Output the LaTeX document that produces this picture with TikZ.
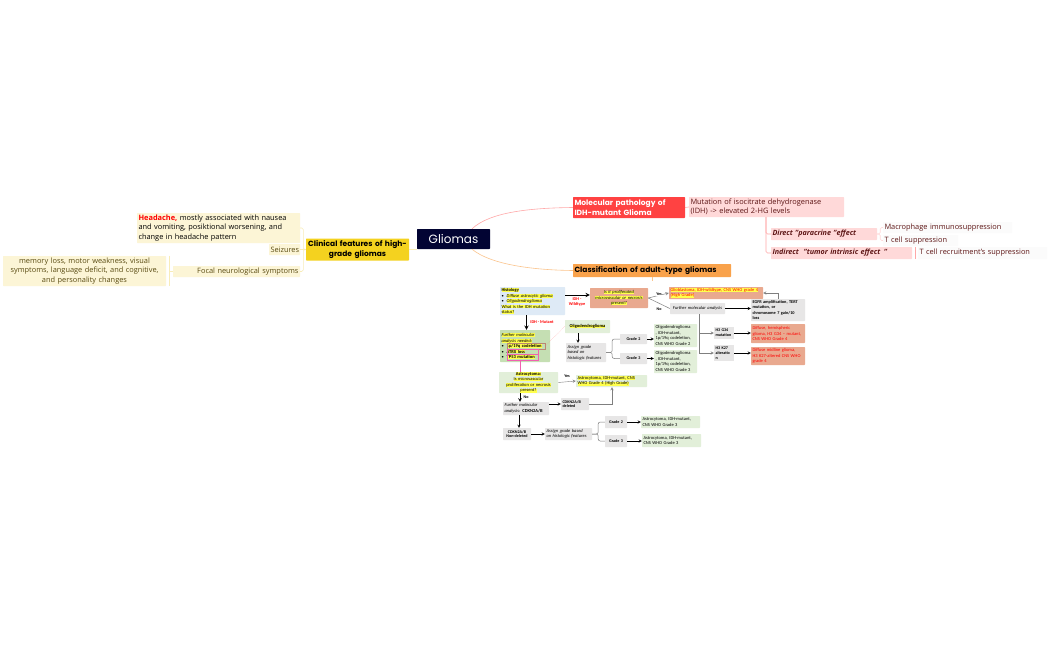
\documentclass[tikz,border=0pt]{standalone}
\usepackage{fontspec}
\setmainfont{Open Sans}
\newfontfamily\headfont{Poppins}
\newfontfamily\flowfont{Carlito}
\definecolor{rootblue}{HTML}{020433}
\definecolor{paleyellow}{HTML}{FCF5D6}
\definecolor{lineyellow}{HTML}{F8ECB8}
\definecolor{sunyellow}{HTML}{F4D21F}
\definecolor{textolive}{HTML}{5A4B12}
\definecolor{molred}{HTML}{FF4242}
\definecolor{palered}{HTML}{FFD9D9}
\definecolor{linered}{HTML}{FFA8A8}
\definecolor{textwine}{HTML}{5E1616}
\definecolor{classorange}{HTML}{F9A24B}
\definecolor{lineorange}{HTML}{FBC48C}
\definecolor{flowblue}{HTML}{DEEAF6}
\definecolor{flowsalmon}{HTML}{E9A98F}
\definecolor{flowgreen}{HTML}{E2EFD9}
\definecolor{flowmoss}{HTML}{C5DFB3}
\definecolor{flowgrey}{HTML}{E7E6E6}
\definecolor{flowyellow}{HTML}{FFFF4D}
\definecolor{flowpink}{HTML}{F060B0}
\definecolor{flowline}{HTML}{7F7F7F}
\newcommand{\hlyel}[1]{{\setlength{\fboxsep}{0pt}\colorbox{flowyellow}{#1}}}
\tikzset{
  sized/.style 2 args={text width=#1pt, minimum height=#2pt, inner xsep=1.5pt, inner ysep=0pt, rounded corners=.6pt},
  clinbox/.style={fill=paleyellow, text=textolive, font=\fontsize{7.4}{9.3}\selectfont},
  molbox/.style={fill=palered, text=textwine, font=\fontsize{7.4}{9.3}\selectfont},
  leafbox/.style={fill=white!98.5!black, text=textwine, font=\fontsize{7.4}{9.3}\selectfont},
  mainbox/.style={font=\headfont\bfseries\fontsize{7.5}{9.3}\selectfont},
  flowbox/.style={font=\flowfont\fontsize{4.5}{5.5}\selectfont, rounded corners=0pt},
  flowb/.style={flowbox, fill=flowgrey},
  flowg/.style={flowbox, fill=flowgreen},
  flowr/.style={flowbox, fill=flowsalmon, text=red},
  flowlink/.style={flowline, line width=.5pt},
  flowarrow/.style={black, line width=.4pt, ->, >=stealth},
  flowtag/.style={flowbox, font=\flowfont\bfseries\fontsize{4.1}{4.8}\selectfont, inner sep=.3pt}
}
\begin{document}
\begin{tikzpicture}[x=1pt, y=-1pt]
  \useasboundingbox[fill=white] (0,0) rectangle (1050,650);
  % central topic and left branch
  \node[fill=rootblue, text=white, minimum width=73pt, minimum height=20pt, inner sep=0pt, rounded corners=.6pt,
        font=\headfont\fontsize{12}{14}\selectfont] (gliomas) at (453.5,239) {Gliomas};
  \node[mainbox, fill=sunyellow, sized={100}{22}, align=center] (clinical) at (357.5,249.5) {Clinical features of high-\\grade gliomas};
  \node[clinbox, sized={160}{30}, align=left] (headache) at (218.5,228) {\textcolor{red}{\textbf{Headache,}} \textcolor{black}{mostly associated with nausea}\\\textcolor{black}{and vomiting, posiktional worsening, and}\\\textcolor{black}{change in headache pattern}};
  \node[clinbox, sized={28}{11}, align=right] (seizures) at (284.5,249.5) {Seizures};
  \node[clinbox, sized={124}{11}, align=right] (focal) at (236.5,271.5) {Focal neurological symptoms};
  \node[clinbox, sized={160}{30}, align=center] (memory) at (84.5,271) {memory loss, motor weakness, visual\\symptoms, language deficit, and cognitive,\\and personality changes};
  \draw[lineyellow, line width=.6pt] (gliomas.west |- 0,249) -- (clinical.east |- 0,249);
  \draw[lineyellow, line width=.6pt, rounded corners=1.5pt] (clinical.west) -- ++(-2.5,0) |- (headache.east);
  \draw[lineyellow, line width=.6pt] (clinical.west) -- ++(-2.5,0) -- (seizures.east);
  \draw[lineyellow, line width=.6pt, rounded corners=1.5pt] (clinical.west) -- ++(-2.5,0) |- (focal.east);
  \draw[lineyellow, line width=.6pt] (focal.west) -- ++(-4,0);
  \draw[lineyellow, line width=.6pt] ([xshift=3pt]memory.north east) -- ([xshift=3pt]memory.south east);
  % right branches
  \node[mainbox, fill=molred, text=white, sized={109}{21}, align=left] (molecular) at (629,207.5) {Molecular pathology of\\IDH-mutant Glioma};
  \node[mainbox, fill=classorange, sized={155}{13}, align=left] (classif) at (652,270.5) {Classification of adult-type gliomas};
  \node[molbox, sized={152}{20}, align=left] (mutation) at (766.5,207) {Mutation of isocitrate dehydrogenase\\(IDH) -> elevated 2-HG levels};
  \node[molbox, sized={103}{12}, align=left, font=\bfseries\itshape\fontsize{7.2}{9}\selectfont] (direct) at (824,234) {Direct "paracrine "effect};
  \node[molbox, sized={138}{12}, align=left, font=\bfseries\itshape\fontsize{7.2}{9}\selectfont] (indirect) at (841.5,253) {Indirect \ "tumor intrinsic effect \,"};
  \node[leafbox, sized={126}{11}, align=left] (macro) at (947.5,227.5) {Macrophage immunosuppression};
  \node[leafbox, sized={72}{11}, align=left] (tcell) at (920.5,240.5) {T cell suppression};
  \node[leafbox, sized={126}{12}, align=left] (recruit) at (982.5,253) {T cell recruitment's suppression};
  \draw[linered, line width=.6pt] (gliomas.north -| 472,0) .. controls (490,212) and (530,208) .. (molecular.west);
  \draw[lineorange, line width=.6pt] (gliomas.south -| 472,0) .. controls (490,264) and (530,270) .. (classif.west);
  \draw[linered, line width=.6pt] (molecular.east) -- (mutation.west);
  \draw[linered, line width=.6pt, rounded corners=1.5pt] (mutation.south -| 766,0) |- (direct.west);
  \draw[linered, line width=.6pt, rounded corners=1.5pt] (mutation.south -| 766,0) |- (indirect.west);
  \draw[palered, line width=.6pt, rounded corners=1.5pt] (direct.east) -- ++(3,0) |- (macro.west);
  \draw[palered, line width=.6pt, rounded corners=1.5pt] (direct.east) -- ++(3,0) |- (tcell.west);
  \draw[linered, line width=.6pt] (915,247) -- (915,259);
  \coordinate (classend) at (652,281);
  \draw[lineorange, line width=.6pt] (classif.south) -- (classend);
  % flow chart, top part
  \node[flowbox, fill=flowblue, sized={62}{28}, align=left] (histology) at (532.5,301) {\hlyel{\textbf{Histology}}\\\textbullet\hspace{3pt}\hlyel{\textit{Diffuse astrocytic glioma}}\\\textbullet\hspace{3pt}\hlyel{\textit{Oligodendroglioma}}\\\hlyel{What is the IDH mutation}\\\hlyel{status?}};
  \node[flowbox, fill=flowsalmon, sized={55}{20}, align=center] (prolif) at (619,298) {\hlyel{\textit{Is it proliferated}}\\\hlyel{\textit{microvascular or necrosis}}\\\hlyel{\textit{present?}}};
  \node[flowbox, fill=flowsalmon, sized={91}{12}, align=left] (gbm) at (716,293) {\hlyel{\textcolor{red}{Glioblastoma, IDH-wildtype, CNS WHO grade 4}}\\\hlyel{\textcolor{red}{(High Grade)}}};
  \node[flowb, sized={52}{11}, align=center] (furthermol) at (697.5,308.5) {\mbox{\textit{Further molecular analysis}}};
  \node[flowb, sized={51}{22}, align=left, font=\flowfont\bfseries\fontsize{4.3}{5.5}\selectfont] (egfr) at (778,310) {EGFR amplification, TERT\\mutation, or\\chromosome 7 gain/10\\loss};
  \node[flowb, sized={17}{12}, align=left, flowtag, inner xsep=1.5pt] (h3g) at (724,333) {H3 G34\\mutation};
  \node[flowb, sized={17}{16}, align=left, flowtag, inner xsep=1.5pt] (h3k) at (724,353) {H3 K27\\alteratio\\n};
  \node[flowr, sized={51}{19}, align=left] (diffhemi) at (778,333.5) {Diffuse, hemispheric\\glioma, H3 G34 – mutant,\\CNS WHO Grade 4};
  \node[flowr, sized={51}{18}, align=left] (diffmid) at (778,356) {Diffuse midline glioma,\\H3 K27-altered CNS WHO\\grade 4};
  \node[flowbox, fill=flowmoss, sized={47}{32}, align=left] (further) at (525,346) {\hlyel{\textit{Further molecular}}\\\hlyel{\textit{analysis needed:}}\\\textbullet\hspace{3pt}\hlyel{\textbf{1p/19q codeletion}}\\\textbullet\hspace{3pt}\hlyel{\textbf{ATRX loss}}\\\textbullet\hspace{3pt}\hlyel{\textbf{TP53 mutation}}};
  \coordinate (codelend) at (545,346);
  \coordinate (tpend) at (520,360);
  \draw[flowsalmon!80!black, line width=.3pt] (507,343.3) rectangle (codelend |- 0,349.5);
  \draw[flowpink, line width=.3pt] (507,349.5) rectangle (538,354.6);
  \draw[flowpink, line width=.3pt] (507,354.6) rectangle (538,360);
  \node[flowg, sized={42}{13}, align=center, font=\flowfont\bfseries\fontsize{4.5}{5.5}\selectfont] (oligo) at (587.5,326.5) {\hlyel{Oligodendroglioma}};
  \node[flowb, sized={37}{19}, align=left, font=\flowfont\itshape\fontsize{4.5}{5.5}\selectfont] (assignone) at (586,352.5) {Assign grade\\based on\\histologic features};
  \node[flowb, flowtag, sized={24}{10}, align=center, inner xsep=1.5pt] (gradetwo) at (633.5,339) {Grade 2};
  \node[flowb, flowtag, sized={24}{11}, align=center, inner xsep=1.5pt] (gradethree) at (633.5,358.5) {Grade 3};
  \node[flowg, sized={40}{23}, align=left] (oligotwo) at (675.5,335.5) {Oligodendroglioma\\, IDH-mutant,\\1p/19q codeletion,\\CNS WHO Grade 2};
  \node[flowg, sized={40}{23}, align=left] (oligothree) at (675.5,361.5) {Oligodendroglioma\\, IDH-mutant,\\1p/19q codeletion,\\CNS WHO Grade 3};
  % flow chart, lower part
  \node[flowg, sized={56}{21}, align=center] (astroq) at (528.5,382.5) {\hlyel{\textbf{Astrocytoma:}}\\\hlyel{Is microvascular}\\\hlyel{proliferation or necrosis}\\\hlyel{present?}};
  \node[flowg, sized={68}{12}, align=left] (astrofour) at (611.5,381) {\hlyel{Astrocytoma, IDH-mutant, CNS}\\\hlyel{WHO Grade 4 (High Grade)}};
  \node[flowb, sized={43}{13}, align=left] (furthercdkn) at (526,408.5) {\textit{Further molecular}\\\textit{analysis:} \textbf{CDKN2A/B}};
  \node[flowb, flowtag, sized={25}{12}, align=left, inner xsep=1.5pt] (deleted) at (575,404) {CDKN2A/B\\deleted};
  \node[flowb, flowtag, sized={25}{12}, align=center, inner xsep=1.5pt] (nondel) at (517,434) {CDKN2A/B\\Non-deleted};
  \node[flowb, sized={44}{12}, align=left, font=\flowfont\itshape\fontsize{4.5}{5.5}\selectfont] (assigntwo) at (568.5,434) {Assign grade based\\on histologic features};
  \node[flowb, flowtag, sized={19}{12}, align=center, inner xsep=1.5pt] (gradeb) at (616,422) {Grade 2};
  \node[flowb, flowtag, sized={19}{12}, align=center, inner xsep=1.5pt] (gradec) at (616,441) {Grade 3};
  \node[flowg, sized={56}{12}, align=left] (astrob) at (670.5,422) {Astrocytoma, IDH-mutant,\\CNS WHO Grade 3};
  \node[flowg, sized={56}{13}, align=left] (astroc) at (671.5,440.5) {Astrocytoma, IDH-mutant,\\CNS WHO Grade 3};
  % flow labels
  \node[flowtag, text=red, align=center, font=\flowfont\bfseries\fontsize{4.3}{5}\selectfont] (wildlab) at (577,302) {IDH -\\Wildtype};
  \node[flowtag, text=red, font=\flowfont\bfseries\fontsize{4.3}{5}\selectfont] (mutlab) at (542,322) {IDH - Mutant};
  % flow connectors
  \draw[black, line width=.9pt, ->, >=stealth] (histology.east |- 0,295) -- (prolif.west |- 0,295);
  \draw[black, line width=.9pt, ->, >=stealth] (histology.south -| 526.5,0) -- (further.north -| 526.5,0);
  \draw[flowlink, ->, >=stealth] (prolif.east) -- (gbm.west);
  \draw[flowlink] (prolif.east) -- (furthermol.west);
  \node[flowtag, fill=white] (yeslab) at (659,294.5) {Yes};
  \node[flowtag, fill=white] (nolab) at (659,309) {No};
  \draw[flowarrow] (furthermol.east) -- (furthermol.east -| egfr.west);
  \draw[flowarrow, flowline] (egfr.north) |- (gbm.east);
  \draw[flowarrow, flowline] (furthermol.south -| 699,0) |- (h3g.west);
  \draw[flowarrow, flowline] (furthermol.south -| 699,0) |- (h3k.west);
  \draw[flowarrow] (h3g.east) -- (diffhemi.west |- h3g.east);
  \draw[flowarrow] (h3k.east) -- (diffmid.west |- h3k.east);
  \draw[red!50!white, line width=.3pt, densely dotted] (codelend) -- (oligo.west);
  \draw[flowarrow] (oligo.south -| 578,0) -- (assignone.north -| 578,0);
  \draw[flowlink, rounded corners=2pt] (assignone.east) -- ++(6,0) |- (gradetwo.west);
  \draw[flowlink, rounded corners=2pt] (assignone.east) -- ++(6,0) |- (gradethree.west);
  \draw[flowarrow] (gradetwo.east) -- (oligotwo.west |- gradetwo.east);
  \draw[flowarrow] (gradethree.east) -- (oligothree.west |- gradethree.east);
  \draw[flowpink, line width=.9pt] (tpend) -- (astroq.north -| tpend);
  \draw[flowarrow, flowline] (astroq.east) -- (astrofour.west);
  \node[flowtag] (yesb) at (567,376.5) {Yes};
  \draw[flowarrow, line width=.6pt] (astroq.south -| 520,0) -- (furthercdkn.north -| 520,0);
  \node[flowtag] (nob) at (526,397.5) {No};
  \draw[flowarrow] (furthercdkn.east |- deleted.west) -- (deleted.west);
  \draw[flowarrow, flowline] (deleted.east) -| (astrofour.south -| 612,0);
  \draw[flowarrow] (furthercdkn.south -| 519,0) -- (nondel.north -| 519,0);
  \draw[flowarrow] (nondel.east) -- (assigntwo.west);
  \draw[flowlink, rounded corners=2pt] (assigntwo.east) -- ++(6,0) |- (gradeb.west);
  \draw[flowlink, rounded corners=2pt] (assigntwo.east) -- ++(6,0) |- (gradec.west);
  \draw[flowarrow] (gradeb.east) -- (astrob.west);
  \draw[flowarrow] (gradec.east) -- (astroc.west |- gradec.east);
\end{tikzpicture}
\end{document}
